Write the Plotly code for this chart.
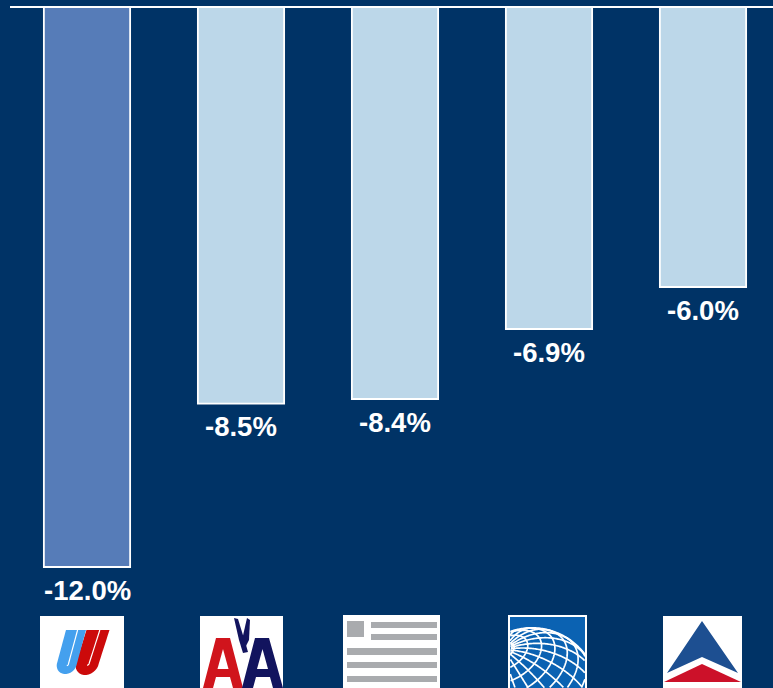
import numpy as np
import plotly.graph_objects as go

# ---- data ----
categories = ["United", "American", "US Airways", "Continental", "Delta"]
values = [-12.0, -8.5, -8.4, -6.9, -6.0]
label_texts = ["-12.0%", "-8.5%", "-8.4%", "-6.9%", "-6.0%"]
bar_colors = ["#567cb8", "#bcd7e9", "#bcd7e9", "#bcd7e9", "#bcd7e9"]

BG = "#003366"
W, H = 773, 688
L_MARGIN = 10
PX_PER_UNIT = 46.667


def pxx(px):
    return (px - L_MARGIN) / (W - L_MARGIN)


def pxy(py):
    return 1 - py / H


def path_from(points, close=True):
    s = "M " + " L ".join(f"{pxx(x):.5f},{pxy(y):.5f}" for x, y in points)
    return s + (" Z" if close else "")


fig = go.Figure()
fig.add_trace(go.Bar(
    x=categories, y=values, width=0.56,
    marker=dict(color=bar_colors, line=dict(color="white", width=1.8)),
    hoverinfo="skip",
))

for c, v, t in zip(categories, values, label_texts):
    fig.add_annotation(x=c, y=v, text=f"<b>{t}</b>", showarrow=False,
                       yanchor="middle", xanchor="center", yshift=-23,
                       font=dict(family="Liberation Sans, Arial", size=27.5, color="white"))

shapes = []


def rect(x0, y0, x1, y1, color, line=None):
    shapes.append(dict(type="rect", xref="paper", yref="paper",
                       x0=pxx(x0), x1=pxx(x1), y0=pxy(y1), y1=pxy(y0),
                       fillcolor=color, line=dict(width=0) if line is None else line,
                       layer="above"))


def poly(points, color):
    shapes.append(dict(type="path", xref="paper", yref="paper", path=path_from(points),
                       fillcolor=color, line=dict(width=0), layer="above"))


def polyline(points, color, width):
    shapes.append(dict(type="path", xref="paper", yref="paper", path=path_from(points, close=False),
                       line=dict(color=color, width=width), layer="above"))


# ---- logo 1: United (tulip) ----
rect(40, 616, 124, 688, "white")


def italic_u(xl, xr, top, bottom, slant, color):
    w = xr - xl
    r = w / 2
    ys = np.linspace(top, bottom - r, 12)
    left = [(xl - slant * (y - top), y) for y in ys]
    right = [(xr - slant * (y - top), y) for y in ys]
    cxb = (left[-1][0] + right[-1][0]) / 2
    cyb = bottom - r
    ang = np.linspace(np.pi, 0, 16)
    arc = [(cxb + r * np.cos(a) - slant * r * np.sin(a) * 0.6, cyb + r * np.sin(a)) for a in ang]
    poly(left + arc + right[::-1], color)
    xm = xl + 0.58 * w
    ys2 = np.linspace(top, bottom - r, 10)
    inner = [(xm - slant * (y - top), y) for y in ys2]
    r2 = xm - slant * (bottom - r - top) - cxb
    ang2 = np.linspace(0, np.pi * 0.45, 6)
    inner += [(cxb + r2 * np.cos(a) - slant * r2 * np.sin(a) * 0.6, cyb + r2 * np.sin(a)) for a in ang2]
    polyline(inner, "white", 1.2)


italic_u(86.5, 109.5, 630, 675, 0.32, "#cc0a0a")
italic_u(66.0, 86.0, 630, 674, 0.27, "#44a0ee")

# ---- logo 2: American (AA) ----
rect(200, 616, 283, 688, "white")
poly([(216, 638), (230, 638), (243, 688), (233, 688), (230, 677), (216, 677), (213, 688), (203, 688)], "#d0141c")
poly([(223, 649), (228.5, 669), (217.5, 669)], "white")
poly([(255, 638), (269, 638), (283, 688), (273, 688), (270, 677), (256, 677), (253, 688), (242, 688)], "#12145e")
poly([(262.5, 649), (268, 669), (257, 669)], "white")
# eagle
poly([(234, 618), (238, 619), (246, 645), (248, 652), (243, 653), (239, 640)], "#12145e")
poly([(247, 618), (250, 620), (249, 640), (246, 646), (242, 640)], "#12145e")

# ---- logo 3: US Airways flag ----
rect(343, 615, 440, 688, "white")
G = "#a9abae"
rect(347, 621, 364, 637, G)
rect(371, 622, 437, 628, G)
rect(371, 634, 437, 640, G)
rect(347, 648, 437, 655, G)
rect(347, 662, 437, 668, G)
rect(347, 676, 437, 682, G)

# ---- logo 4: Continental globe ----
rect(508, 615, 587, 688, "white")
bx0, by0, bx1, by1 = 510, 617, 585, 688
rect(bx0, by0, bx1, by1, "#0b62b2")
cx, cy, R = 532, 694, 66
alpha, beta = np.radians(32), np.radians(38)


def project(lat, lon):
    x = np.cos(lat) * np.sin(lon)
    y = np.sin(lat)
    z = np.cos(lat) * np.cos(lon)
    y1 = y * np.cos(beta) - z * np.sin(beta)
    z1 = y * np.sin(beta) + z * np.cos(beta)
    x2 = x * np.cos(alpha) - y1 * np.sin(alpha)
    y2 = x * np.sin(alpha) + y1 * np.cos(alpha)
    return cx + R * x2, cy - R * y2, z1


def add_clipped(X, Y, Z, width=1.7):
    ok = (Z > 0) & (X >= bx0) & (X <= bx1) & (Y >= by0) & (Y <= by1)
    seg = []
    for xi, yi, k in zip(X, Y, ok):
        if k:
            seg.append((xi, yi))
        else:
            if len(seg) > 1:
                polyline(seg, "white", width)
            seg = []
    if len(seg) > 1:
        polyline(seg, "white", width)


t = np.linspace(-np.pi, np.pi, 241)
for latd in range(-75, 90, 12):
    X, Y, Z = project(np.radians(latd) * np.ones_like(t), t)
    add_clipped(X, Y, Z)
tl = np.linspace(-np.pi / 2, np.pi / 2, 181)
for lond in range(0, 360, 15):
    X, Y, Z = project(tl, np.radians(lond) * np.ones_like(tl))
    add_clipped(X, Y, Z)
ang = np.linspace(0, 2 * np.pi, 361)
add_clipped(cx + R * np.cos(ang), cy - R * np.sin(ang), np.ones_like(ang), width=2)

# ---- logo 5: Delta ----
rect(663, 616, 742, 688, "white")
poly([(702, 621), (738, 673), (702, 657), (667, 673)], "#1d4f91")
poly([(702, 664), (741, 682), (664, 682)], "#cc1129")

fig.update_layout(
    width=W, height=H,
    margin=dict(l=L_MARGIN, r=0, t=0, b=0),
    paper_bgcolor=BG, plot_bgcolor=BG,
    showlegend=False,
    bargap=0.44,
    shapes=shapes,
    xaxis=dict(range=[-0.5, -0.5 + (W - L_MARGIN) / 154.0], showticklabels=False,
               showgrid=False, zeroline=False, ticks="", fixedrange=True),
    yaxis=dict(range=[-(H - 7) / PX_PER_UNIT, 7 / PX_PER_UNIT], showticklabels=False,
               showgrid=False, zeroline=True, zerolinecolor="white", zerolinewidth=2,
               ticks="", fixedrange=True),
)

fig.write_html("out.html", config={"displayModeBar": False},
               post_script="document.body.style.margin='0';document.body.style.padding='0';"
                           "document.body.style.overflow='hidden';document.body.style.background='#003366';")
